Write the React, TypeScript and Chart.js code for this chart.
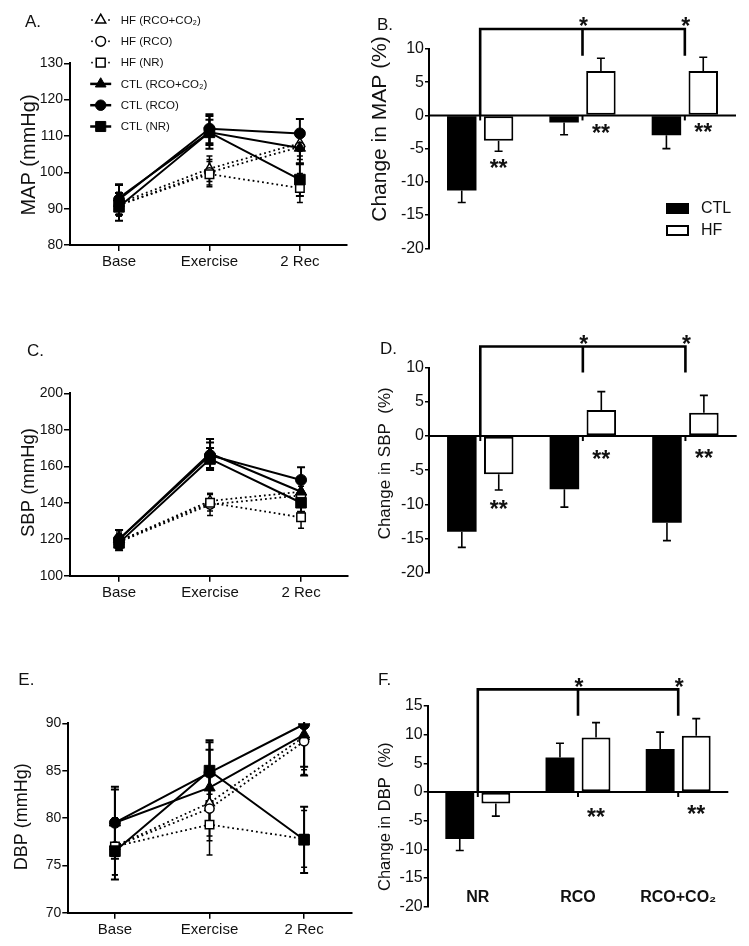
import React, { useEffect, useRef } from 'react';
import { Chart, registerables } from 'chart.js';

Chart.register(...registerables);

const FONT = "'Liberation Sans', Arial, Helvetica, sans-serif";
Chart.defaults.font.family = FONT;
Chart.defaults.color = '#111';

// ---------- categories & tick labels ----------
const timePoints = ['Base', 'Exercise', '2 Rec'];
const conditions = ['NR', 'RCO', 'RCO+CO₂'];
const groups = ['CTL', 'HF'];

const mapTicks = [80, 90, 100, 110, 120, 130];
const sbpTicks = [100, 120, 140, 160, 180, 200];
const dbpTicks = [70, 75, 80, 85, 90];
const mapChangeTicks = [-20, -15, -10, -5, 0, 5, 10];
const sbpChangeTicks = [-20, -15, -10, -5, 0, 5, 10];
const dbpChangeTicks = [-20, -15, -10, -5, 0, 5, 10, 15];

// ---------- MAP (mmHg) : Base, Exercise, 2 Rec ----------
const mapCtlNR = [90.5, 111, 98];
const mapCtlNRErr = [3.8, 4.5, 4.5];
const mapCtlRCO = [92.5, 112, 110.7];
const mapCtlRCOErr = [4.2, 4, 4];
const mapCtlRCOCO2 = [93, 111, 106.7];
const mapCtlRCOCO2Err = [3.5, 3.5, 4.5];
const mapHfNR = [91, 99.5, 95.7];
const mapHfNRErr = [3, 3.5, 4];
const mapHfRCO = [91, 100, 107];
const mapHfRCOErr = [3, 3.5, 3.5];
const mapHfRCOCO2 = [91.5, 101, 108];
const mapHfRCOCO2Err = [3, 3.5, 3.5];

// ---------- SBP (mmHg) ----------
const sbpCtlNR = [118, 164, 140];
const sbpCtlNRErr = [4, 6, 5];
const sbpCtlRCO = [120, 166, 152.5];
const sbpCtlRCOErr = [5, 7, 7];
const sbpCtlRCOCO2 = [120, 167, 146];
const sbpCtlRCOCO2Err = [5, 8, 6];
const sbpHfNR = [119, 140, 132];
const sbpHfNRErr = [5, 4.5, 6];
const sbpHfRCO = [118.5, 139, 144];
const sbpHfRCOErr = [4, 6, 5];
const sbpHfRCOCO2 = [119, 141, 146];
const sbpHfRCOCO2Err = [4, 4, 5];

// ---------- DBP (mmHg) ----------
const dbpCtlNR = [76.5, 85, 77.7];
const dbpCtlNRErr = [3, 3.2, 3.5];
const dbpCtlRCO = [79.5, 84.8, 89.9];
const dbpCtlRCOErr = [3.8, 3.2, 4.5];
const dbpCtlRCOCO2 = [79.5, 83.2, 88.8];
const dbpCtlRCOCO2Err = [3.5, 4, 4.3];
const dbpHfNR = [77, 79.3, 77.8];
const dbpHfNRErr = [3, 3.2, 3];
const dbpHfRCO = [77, 81, 88.1];
const dbpHfRCOErr = [3, 3.4, 3.5];
const dbpHfRCOCO2 = [77, 81.6, 88.6];
const dbpHfRCOCO2Err = [3, 3.5, 3.5];

// ---------- % change bars : NR, RCO, RCO+CO2 ----------
const mapChangeCtl = [-11.3, -1.05, -3.0];
const mapChangeCtlErr = [1.8, 1.85, 2.0];
const mapChangeHf = [-3.8, 6.7, 6.7];
const mapChangeHfErr = [1.6, 1.9, 2.05];
const sbpChangeCtl = [-14.0, -7.8, -12.7];
const sbpChangeCtlErr = [2.3, 2.6, 2.6];
const sbpChangeHf = [-5.6, 3.8, 3.4];
const sbpChangeHfErr = [2.3, 2.7, 2.55];
const dbpChangeCtl = [-8.2, 6.0, 7.5];
const dbpChangeCtlErr = [2.0, 2.5, 2.95];
const dbpChangeHf = [-2.0, 9.5, 9.8];
const dbpChangeHfErr = [2.2, 2.6, 3.0];

// significance annotations (values in % units)
const mapBracket = [13, 9];
const sbpBracket = [13.1, 9.3];
const dbpBracket = [17.9, 13.3];
const mapDoubleStarY = [-7.1, -1.8, -1.7];
const sbpDoubleStarY = [-9.9, -2.6, -2.4];
const dbpDoubleStarY = [null, -3.5, -2.9];

// ---------- helpers ----------
const shapes = ['rect', 'circle', 'triangle'];
const radii: Record<string, number[]> = { CTL: [7.5, 5.5, 6.5], HF: [6, 4.6, 5.5] };

type Series = { group: string; cond: number; values: number[]; errs: number[] };

function lineDatasets(series: Series[]) {
  return series.map((s) => {
    const ctl = s.group === 'CTL';
    return {
      label: `${s.group} (${conditions[s.cond]})`,
      data: s.values.map((y, i) => ({ x: i, y })),
      errors: s.errs,
      errWidth: ctl ? 2 : 1.5,
      capWidth: ctl ? 8 : 6,
      borderColor: '#000',
      borderWidth: ctl ? 2 : 1.8,
      borderDash: ctl ? [] : [1.8, 3],
      borderCapStyle: 'butt',
      pointStyle: shapes[s.cond],
      pointRadius: radii[s.group][s.cond],
      pointBackgroundColor: ctl ? '#000' : '#fff',
      pointBorderColor: '#000',
      pointBorderWidth: ctl ? 1 : 1.5,
      tension: 0,
      fill: false,
    };
  });
}

function drawMarker(ctx: CanvasRenderingContext2D, shape: string, x: number, y: number, r: number, filled: boolean) {
  ctx.beginPath();
  if (shape === 'circle') ctx.arc(x, y, r, 0, Math.PI * 2);
  else if (shape === 'rect') {
    const s = r * Math.SQRT1_2;
    ctx.rect(x - s, y - s, 2 * s, 2 * s);
  } else {
    let a = 0;
    ctx.moveTo(x + Math.sin(a) * r, y - Math.cos(a) * r);
    a += (2 * Math.PI) / 3;
    ctx.lineTo(x + Math.sin(a) * r, y - Math.cos(a) * r);
    a += (2 * Math.PI) / 3;
    ctx.lineTo(x + Math.sin(a) * r, y - Math.cos(a) * r);
    ctx.closePath();
  }
  ctx.fillStyle = filled ? '#000' : '#fff';
  ctx.fill();
  ctx.lineWidth = filled ? 1 : 1.5;
  ctx.strokeStyle = '#000';
  ctx.stroke();
}

const errorBarPlugin = {
  id: 'errbars',
  beforeDatasetsDraw(chart: any) {
    if (chart.config.type !== 'line') return;
    const ctx = chart.ctx;
    const ys = chart.scales.y;
    const ca = chart.chartArea;
    ctx.save();
    ctx.beginPath();
    ctx.rect(0, ca.top - 1, chart.width, ca.bottom - ca.top + 2);
    ctx.clip();
    ctx.strokeStyle = '#000';
    chart.data.datasets.forEach((ds: any, i: number) => {
      const meta = chart.getDatasetMeta(i);
      meta.data.forEach((el: any, j: number) => {
        const v = ds.data[j].y;
        const e = ds.errors[j];
        const y1 = ys.getPixelForValue(v + e);
        const y2 = ys.getPixelForValue(v - e);
        ctx.lineWidth = ds.errWidth;
        ctx.beginPath();
        ctx.moveTo(el.x, y1);
        ctx.lineTo(el.x, y2);
        ctx.moveTo(el.x - ds.capWidth / 2, y1);
        ctx.lineTo(el.x + ds.capWidth / 2, y1);
        ctx.moveTo(el.x - ds.capWidth / 2, y2);
        ctx.lineTo(el.x + ds.capWidth / 2, y2);
        ctx.stroke();
      });
    });
    ctx.restore();
  },
  afterDatasetsDraw(chart: any) {
    if (chart.config.type !== 'bar') return;
    const ctx = chart.ctx;
    const ys = chart.scales.y;
    ctx.save();
    ctx.strokeStyle = '#000';
    ctx.lineWidth = 1.6;
    chart.data.datasets.forEach((ds: any, i: number) => {
      const meta = chart.getDatasetMeta(i);
      meta.data.forEach((el: any, j: number) => {
        const v = ds.data[j];
        const e = ds.errors[j] * (v < 0 ? -1 : 1);
        const y0 = ys.getPixelForValue(v);
        const y1 = ys.getPixelForValue(v + e);
        ctx.beginPath();
        ctx.moveTo(el.x, y0);
        ctx.lineTo(el.x, y1);
        ctx.moveTo(el.x - 4, y1);
        ctx.lineTo(el.x + 4, y1);
        ctx.stroke();
      });
    });
    ctx.restore();
  },
};

type Decor = {
  letter: string; lx: number; ly: number;
  title: string; tx: number; ty: number; tsize: number;
  lineLegend?: boolean;
  bar?: { bracket: number[]; doubleStars: (number | null)[]; legend?: boolean };
};

function decorPlugin(cfg: Decor) {
  return {
    id: 'decor',
    afterDraw(chart: any) {
      const ctx: CanvasRenderingContext2D = chart.ctx;
      ctx.save();
      ctx.fillStyle = '#111';
      ctx.font = `17px ${FONT}`;
      ctx.textAlign = 'left';
      ctx.textBaseline = 'middle';
      ctx.fillText(cfg.letter, cfg.lx, cfg.ly);

      ctx.save();
      ctx.translate(cfg.tx, cfg.ty);
      ctx.rotate(-Math.PI / 2);
      ctx.font = `${cfg.tsize}px ${FONT}`;
      ctx.textAlign = 'center';
      ctx.textBaseline = 'middle';
      ctx.fillText(cfg.title, 0, 0);
      ctx.restore();

      if (cfg.lineLegend) {
        const order = [5, 4, 3, 2, 1, 0];
        order.forEach((idx, k) => {
          const ds = chart.data.datasets[idx];
          const ctl = idx < 3;
          const cond = idx % 3;
          const x = 100.7;
          const y = 20 + k * 21.3;
          ctx.save();
          ctx.strokeStyle = '#000';
          if (ctl) {
            ctx.lineWidth = 2.5;
            ctx.beginPath();
            ctx.moveTo(x - 10.5, y);
            ctx.lineTo(x + 10.5, y);
            ctx.stroke();
          } else {
            ctx.fillStyle = '#000';
            ctx.fillRect(x - 9.5, y - 0.8, 1.6, 1.6);
            ctx.fillRect(x + 7.5, y - 0.8, 1.6, 1.6);
          }
          drawMarker(ctx, shapes[cond], x, y, radii[ctl ? 'CTL' : 'HF'][cond] * (ctl ? 0.95 : 1.05), ctl);
          ctx.restore();
          ctx.fillStyle = '#111';
          ctx.font = `11.5px ${FONT}`;
          ctx.textAlign = 'left';
          ctx.textBaseline = 'middle';
          ctx.fillText(ds.label, 120.7, y + 0.5);
        });
      }

      if (cfg.bar) {
        const xs = chart.scales.x;
        const ys = chart.scales.y;
        const ca = chart.chartArea;
        const y0 = ys.getPixelForValue(0);
        ctx.strokeStyle = '#000';
        ctx.lineWidth = 2;
        ctx.beginPath();
        ctx.moveTo(ca.left, y0);
        ctx.lineTo(ca.right, y0);
        ctx.stroke();
        const centers = conditions.map((_, i) => xs.getPixelForValue(i));
        ctx.lineWidth = 2;
        centers.forEach((cx) => {
          ctx.beginPath();
          ctx.moveTo(cx, y0);
          ctx.lineTo(cx, y0 + 5);
          ctx.stroke();
        });
        // bracket
        const top = ys.getPixelForValue(cfg.bar.bracket[0]);
        const drop = ys.getPixelForValue(cfg.bar.bracket[1]);
        ctx.lineWidth = 2.6;
        ctx.beginPath();
        ctx.moveTo(centers[0], y0);
        ctx.lineTo(centers[0], top);
        ctx.lineTo(centers[2], top);
        ctx.lineTo(centers[2], drop);
        ctx.moveTo(centers[1], top);
        ctx.lineTo(centers[1], drop);
        ctx.stroke();
        // stars
        ctx.fillStyle = '#111';
        ctx.textAlign = 'center';
        ctx.textBaseline = 'alphabetic';
        const sz = 23;
        ctx.font = `bold ${sz}px ${FONT}`;
        [1, 2].forEach((i) => ctx.fillText('*', centers[i] + 1, top - 8 + 0.58 * sz));
        const hfMeta = chart.getDatasetMeta(1);
        cfg.bar.doubleStars.forEach((v, j) => {
          if (v === null) return;
          const px = hfMeta.data[j].x;
          ctx.fillText('**', px, ys.getPixelForValue(v) + 0.58 * sz);
        });
        if (cfg.bar.legend) {
          const lx = ca.right - 70;
          ctx.fillStyle = '#000';
          ctx.fillRect(lx, 203, 23, 11);
          ctx.fillStyle = '#fff';
          ctx.fillRect(lx + 1, 226, 21, 9);
          ctx.strokeStyle = '#000';
          ctx.lineWidth = 2;
          ctx.strokeRect(lx + 1, 226, 21, 9);
          ctx.fillStyle = '#111';
          ctx.font = `16px ${FONT}`;
          ctx.textAlign = 'left';
          ctx.textBaseline = 'middle';
          ctx.fillText(groups[0], lx + 35, 209);
          ctx.fillText(groups[1], lx + 35, 231);
        }
      }
      ctx.restore();
    },
  };
}

type Area = { l: number; r: number; t: number; b: number; W: number; H: number };

function yScale(ticks: number[], tickSize: number, area: Area, tickLen: number) {
  return {
    type: 'linear',
    min: ticks[0],
    max: ticks[ticks.length - 1],
    bounds: 'data',
    afterBuildTicks: (s: any) => {
      s.ticks = ticks.map((v) => ({ value: v }));
    },
    afterFit: (s: any) => {
      s.width = area.l;
    },
    grid: { display: true, drawOnChartArea: false, drawTicks: true, tickLength: tickLen, color: '#000', lineWidth: 1.5 },
    border: { display: true, color: '#000', width: 2 },
    ticks: { font: { size: tickSize }, color: '#111', padding: 1 },
  };
}

function lineConfig(series: Series[], ticks: number[], xMin: number, xMax: number, area: Area, decor: Decor) {
  return {
    type: 'line',
    data: { datasets: lineDatasets(series) },
    options: {
      responsive: false,
      animation: false,
      devicePixelRatio: 1,
      events: [],
      layout: { padding: { left: 0, top: area.t, right: area.W - area.r, bottom: 0 } },
      plugins: { legend: { display: false }, tooltip: { enabled: false } },
      scales: {
        x: {
          type: 'linear',
          position: 'bottom',
          min: xMin,
          max: xMax,
          bounds: 'data',
          afterBuildTicks: (s: any) => {
            s.ticks = timePoints.map((_, i) => ({ value: i }));
          },
          afterFit: (s: any) => {
            s.height = area.H - area.b;
          },
          grid: { display: true, drawOnChartArea: false, drawTicks: true, tickLength: 6, color: '#000', lineWidth: 1.5 },
          border: { display: true, color: '#000', width: 2 },
          ticks: {
            font: { size: 15 },
            color: '#111',
            padding: 2,
            maxRotation: 0,
            autoSkip: false,
            callback: (v: number) => timePoints[v] ?? '',
          },
        },
        y: yScale(ticks, 14, area, 6),
      },
    },
    plugins: [errorBarPlugin, decorPlugin(decor)],
  };
}

function barConfig(
  ctl: number[], ctlErr: number[], hf: number[], hfErr: number[],
  ticks: number[], area: Area, decor: Decor, showLabels: boolean,
) {
  const common = { categoryPercentage: 0.72, barPercentage: 0.8, borderColor: '#000' };
  return {
    type: 'bar',
    data: {
      labels: conditions,
      datasets: [
        { label: groups[0], data: ctl, errors: ctlErr, backgroundColor: '#000', borderWidth: 0, ...common },
        { label: groups[1], data: hf, errors: hfErr, backgroundColor: '#fff', borderWidth: 2, borderSkipped: false, ...common },
      ],
    },
    options: {
      responsive: false,
      animation: false,
      devicePixelRatio: 1,
      events: [],
      layout: { padding: { left: 0, top: area.t, right: area.W - area.r, bottom: area.H - area.b } },
      plugins: { legend: { display: false }, tooltip: { enabled: false } },
      scales: {
        x: {
          type: 'category',
          display: showLabels,
          position: 'bottom',
          afterFit: (s: any) => {
            s.height = 0;
          },
          grid: { display: false },
          border: { display: false },
          ticks: { font: { size: 16, weight: 'bold' }, color: '#111', mirror: true, padding: 0, maxRotation: 0, autoSkip: false },
        },
        y: yScale(ticks, 16, area, 4),
      },
    },
    plugins: [errorBarPlugin, decorPlugin(decor)],
  };
}

function mkSeries(v: number[][], e: number[][]): Series[] {
  return [
    { group: 'CTL', cond: 0, values: v[0], errs: e[0] },
    { group: 'CTL', cond: 1, values: v[1], errs: e[1] },
    { group: 'CTL', cond: 2, values: v[2], errs: e[2] },
    { group: 'HF', cond: 0, values: v[3], errs: e[3] },
    { group: 'HF', cond: 1, values: v[4], errs: e[4] },
    { group: 'HF', cond: 2, values: v[5], errs: e[5] },
  ];
}

function Panel({ left, top, W, H, build }: { left: number; top: number; W: number; H: number; build: () => any }) {
  const ref = useRef<HTMLCanvasElement>(null);
  useEffect(() => {
    const chart = new Chart(ref.current as HTMLCanvasElement, build());
    return () => chart.destroy();
  }, []);
  return <canvas ref={ref} width={W} height={H} style={{ position: 'absolute', left, top, width: W, height: H }} />;
}

export default function App() {
  const aArea = { l: 70, r: 347, t: 63.3, b: 245, W: 360, H: 310 };
  const bArea = { l: 69, r: 376, t: 49, b: 248.3, W: 389, H: 310 };
  const cArea = { l: 70, r: 348, t: 83.3, b: 265.7, W: 360, H: 310 };
  const dArea = { l: 69, r: 376.7, t: 57.7, b: 262.7, W: 389, H: 310 };
  const eArea = { l: 68.3, r: 351.7, t: 103.3, b: 292.7, W: 360, H: 326 };
  const fArea = { l: 67.7, r: 368.3, t: 86, b: 286.7, W: 389, H: 326 };

  return (
    <div style={{ position: 'absolute', left: 0, top: 0, width: 749, height: 946, background: '#fff' }}>
      <Panel left={0} top={0} W={360} H={310} build={() =>
        lineConfig(
          mkSeries([mapCtlNR, mapCtlRCO, mapCtlRCOCO2, mapHfNR, mapHfRCO, mapHfRCOCO2],
            [mapCtlNRErr, mapCtlRCOErr, mapCtlRCOCO2Err, mapHfNRErr, mapHfRCOErr, mapHfRCOCO2Err]),
          mapTicks, -0.542, 2.521, aArea,
          { letter: 'A.', lx: 25, ly: 22.7, title: 'MAP (mmHg)', tx: 29, ty: 155, tsize: 20, lineLegend: true })} />
      <Panel left={360} top={0} W={389} H={310} build={() =>
        barConfig(mapChangeCtl, mapChangeCtlErr, mapChangeHf, mapChangeHfErr, mapChangeTicks, bArea,
          { letter: 'B.', lx: 17, ly: 25, title: 'Change in MAP (%)', tx: 20.7, ty: 129, tsize: 21,
            bar: { bracket: mapBracket, doubleStars: mapDoubleStarY, legend: true } }, false)} />
      <Panel left={0} top={310} W={360} H={310} build={() =>
        lineConfig(
          mkSeries([sbpCtlNR, sbpCtlRCO, sbpCtlRCOCO2, sbpHfNR, sbpHfRCO, sbpHfRCOCO2],
            [sbpCtlNRErr, sbpCtlRCOErr, sbpCtlRCOCO2Err, sbpHfNRErr, sbpHfRCOErr, sbpHfRCOCO2Err]),
          sbpTicks, -0.539, 2.516, cArea,
          { letter: 'C.', lx: 27, ly: 41.7, title: 'SBP (mmHg)', tx: 29, ty: 172.5, tsize: 18.5 })} />
      <Panel left={360} top={310} W={389} H={310} build={() =>
        barConfig(sbpChangeCtl, sbpChangeCtlErr, sbpChangeHf, sbpChangeHfErr, sbpChangeTicks, dArea,
          { letter: 'D.', lx: 20, ly: 39.3, title: 'Change in SBP  (%)', tx: 25, ty: 153.3, tsize: 17,
            bar: { bracket: sbpBracket, doubleStars: sbpDoubleStarY } }, false)} />
      <Panel left={0} top={620} W={360} H={326} build={() =>
        lineConfig(
          mkSeries([dbpCtlNR, dbpCtlRCO, dbpCtlRCOCO2, dbpHfNR, dbpHfRCO, dbpHfRCOCO2],
            [dbpCtlNRErr, dbpCtlRCOErr, dbpCtlRCOCO2Err, dbpHfNRErr, dbpHfRCOErr, dbpHfRCOCO2Err]),
          dbpTicks, -0.493, 2.501, eArea,
          { letter: 'E.', lx: 18.3, ly: 60, title: 'DBP (mmHg)', tx: 22, ty: 196.7, tsize: 18 })} />
      <Panel left={360} top={620} W={389} H={326} build={() =>
        barConfig(dbpChangeCtl, dbpChangeCtlErr, dbpChangeHf, dbpChangeHfErr, dbpChangeTicks, fArea,
          { letter: 'F.', lx: 18, ly: 60.7, title: 'Change in DBP  (%)', tx: 25, ty: 196.7, tsize: 16.5,
            bar: { bracket: dbpBracket, doubleStars: dbpDoubleStarY } }, true)} />
    </div>
  );
}
